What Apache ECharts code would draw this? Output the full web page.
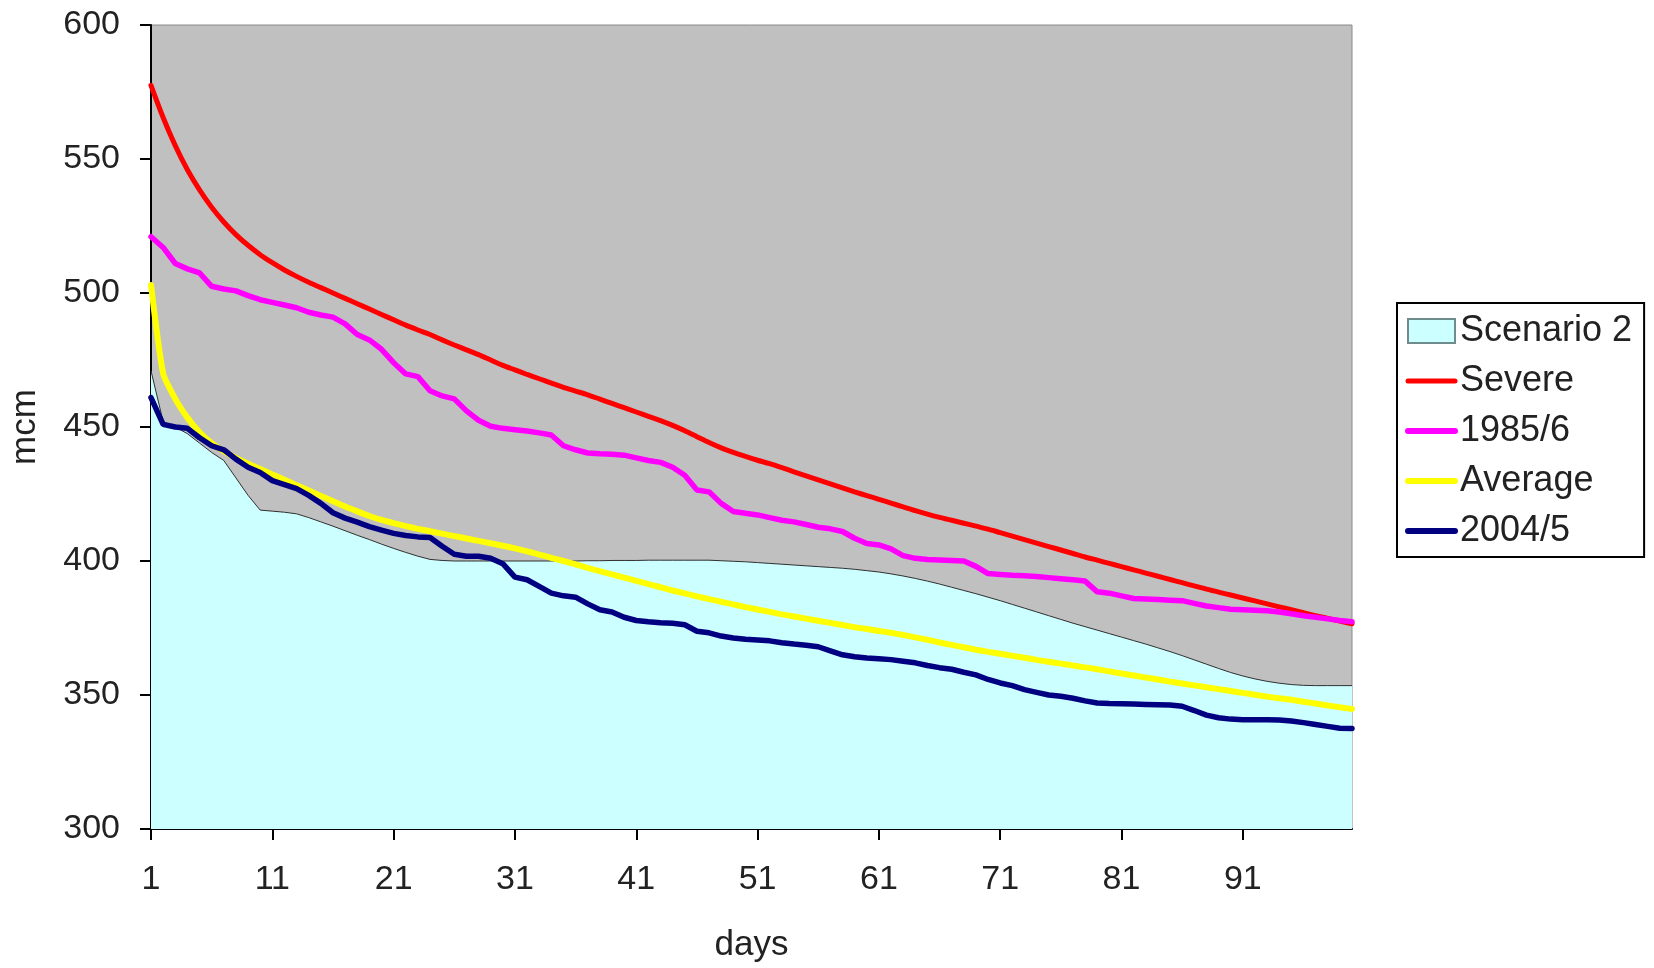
<!DOCTYPE html>
<html>
<head>
<meta charset="utf-8">
<script src="https://cdn.jsdelivr.net/npm/echarts@6/dist/echarts.min.js"></script>
<style>
html,body{margin:0;padding:0;background:#fff;}
#chart{width:1654px;height:968px;}
</style>
</head>
<body>
<div id="chart"></div>
<script>
const days = ['1','2','3','4','5','6','7','8','9','10','11','12','13','14','15','16','17','18','19','20',
'21','22','23','24','25','26','27','28','29','30','31','32','33','34','35','36','37','38','39','40',
'41','42','43','44','45','46','47','48','49','50','51','52','53','54','55','56','57','58','59','60',
'61','62','63','64','65','66','67','68','69','70','71','72','73','74','75','76','77','78','79','80',
'81','82','83','84','85','86','87','88','89','90','91','92','93','94','95','96','97','98','99','100'];

const scenario2 = [471,452,450,447.5,444,440.5,437.5,431,424.5,419,
418.6,418.2,417.6,416.2,414.6,413,411.3,409.6,408,406.3,
404.7,403.2,401.8,400.6,400.2,400,400,400,400,400,
400,400,400,400,400,400,400.1,400.1,400.2,400.2,
400.2,400.3,400.3,400.3,400.3,400.3,400.3,400.1,399.9,399.7,
399.4,399.1,398.8,398.5,398.2,397.9,397.6,397.3,396.9,396.4,
395.9,395.2,394.4,393.5,392.5,391.4,390.2,389,387.8,386.5,
385.2,383.8,382.4,381,379.6,378.2,376.8,375.5,374.2,372.9,
371.6,370.3,369,367.6,366.2,364.7,363.1,361.5,359.9,358.4,
357.1,356,355.1,354.4,353.9,353.6,353.5,353.5,353.5,353.5];

const severe = [577.5,565.5,555,546,538.5,532,526.5,521.8,517.8,514.3,
511.3,508.6,506.2,504,502,500,498,496,494,492,
490,488,486.2,484.5,482.5,480.6,478.8,477,475,473,
471.3,469.6,468,466.4,464.8,463.4,462,460.4,458.8,457.2,
455.6,454,452.4,450.6,448.6,446.4,444.2,442.2,440.5,439,
437.6,436.3,434.8,433.3,431.8,430.3,428.8,427.3,425.8,424.4,
423,421.6,420.2,418.8,417.5,416.3,415.2,414.1,413,411.9,
410.6,409.3,408,406.7,405.4,404.1,402.8,401.5,400.3,399.1,
397.9,396.7,395.5,394.3,393.1,391.9,390.7,389.5,388.4,387.3,
386.2,385.1,384,382.9,381.8,380.7,379.6,378.6,377.6,376.6];

const y1985 = [521,517,511,509,507.5,502.5,501.5,500.8,499,497.5,
496.5,495.5,494.5,492.8,491.8,491,488.5,484.5,482.5,479,
474,469.8,468.8,463.5,461.6,460.5,456,452.5,450.3,449.5,
449,448.5,447.8,447,443,441.5,440.3,440,439.8,439.5,
438.5,437.5,436.8,435,432,426.5,425.8,421.5,418.5,417.8,
417.2,416.2,415.2,414.6,413.6,412.6,412,411,408.5,406.5,
406,404.5,402,401,400.6,400.4,400.2,400,398,395.3,
395,394.7,394.5,394.2,393.8,393.4,393,392.5,388.5,388,
387,386,385.8,385.6,385.4,385.2,384.2,383.2,382.6,382,
381.8,381.6,381.4,381,380.3,379.6,379,378.4,377.8,377.3];

const average = [503,470,460.5,453.5,448,444,441,438.5,436.3,434.3,
432.3,430.3,428.3,426.3,424.3,422.3,420.3,418.5,416.8,415.3,
414.1,413,412,411.1,410.2,409.3,408.4,407.5,406.6,405.7,
404.7,403.6,402.4,401.2,400,398.7,397.4,396.2,395,393.8,
392.6,391.4,390.2,389,387.9,386.8,385.8,384.8,383.8,382.8,
381.9,381,380.1,379.3,378.5,377.7,376.9,376.1,375.3,374.6,
373.9,373.2,372.4,371.5,370.6,369.6,368.7,367.8,366.9,366.1,
365.4,364.6,363.9,363.1,362.4,361.7,361,360.3,359.6,358.8,
358,357.3,356.5,355.8,355,354.3,353.6,352.9,352.2,351.5,
350.8,350.1,349.4,348.8,348.2,347.5,346.8,346.1,345.4,344.8];

const y2004 = [461,451,450,449.5,446,443,441.5,438,435,433,
430,428.5,427,424.5,421.5,418,416,414.5,412.8,411.5,
410.3,409.5,409,408.8,405.5,402.5,401.8,401.8,401,399,
394,393,390.5,388,387,386.5,384,381.8,381,379,
377.8,377.3,377,376.8,376.2,373.8,373.2,372,371.3,370.8,
370.5,370.2,369.5,369,368.6,368,366.5,365,364.3,363.8,
363.5,363.2,362.6,362,361,360.2,359.6,358.5,357.5,355.8,
354.5,353.5,352,351,350,349.5,348.8,347.8,347,346.8,
346.7,346.6,346.5,346.4,346.3,345.8,344.2,342.5,341.5,341,
340.8,340.8,340.8,340.7,340.3,339.7,339,338.3,337.6,337.5];

const yTicks = [300, 600, 50];

const FONT = "'Liberation Sans', Arial, sans-serif";
const hidden = { opacity: 0 };
const chart = echarts.init(document.getElementById('chart'));
chart.setOption({
  animation: false,
  backgroundColor: '#ffffff',
  textStyle: { fontFamily: FONT, color: '#222' },
  grid: {
    left: 150, top: 25, right: 302, bottom: 135,
    show: true, backgroundColor: '#C0C0C0', borderColor: '#8a8a8a', borderWidth: 1
  },
  legend: {
    orient: 'vertical',
    left: 1397, top: 303,
    backgroundColor: '#ffffff',
    borderColor: '#000', borderWidth: 2,
    padding: [10, 12, 8, 8],
    itemWidth: 47, itemHeight: 24, itemGap: 14,
    textStyle: { fontFamily: FONT, fontSize: 36, color: '#222', lineHeight: 36 },
    data: [
      { name: 'Scenario 2', icon: 'rect', itemStyle: { color: '#CCFFFF', borderColor: '#6E8C8C', borderWidth: 2 } },
      { name: 'Severe', itemStyle: hidden, lineStyle: { width: 5, cap: 'round' } },
      { name: '1985/6', itemStyle: hidden, lineStyle: { width: 6, cap: 'round' } },
      { name: 'Average', itemStyle: hidden, lineStyle: { width: 6, cap: 'round' } },
      { name: '2004/5', itemStyle: hidden, lineStyle: { width: 6, cap: 'round' } }
    ]
  },
  xAxis: {
    type: 'category',
    data: days,
    boundaryGap: false,
    name: 'days',
    nameLocation: 'middle',
    nameGap: 99,
    nameTextStyle: { fontFamily: FONT, fontSize: 35, color: '#222' },
    axisLine: { lineStyle: { color: '#000', width: 2 } },
    axisTick: { show: true, interval: 9, length: 11, lineStyle: { color: '#000', width: 2 } },
    axisLabel: { interval: 9, margin: 34, fontSize: 34, color: '#222', fontFamily: FONT },
    splitLine: { show: false }
  },
  yAxis: {
    type: 'value',
    min: yTicks[0], max: yTicks[1], interval: yTicks[2],
    name: 'mcm',
    nameLocation: 'middle',
    nameGap: 108,
    nameTextStyle: { fontFamily: FONT, fontSize: 35, color: '#222' },
    axisLine: { show: true, lineStyle: { color: '#000', width: 2 } },
    axisTick: { show: true, length: 11, lineStyle: { color: '#000', width: 2 } },
    axisLabel: { margin: 31, fontSize: 34, color: '#222', fontFamily: FONT },
    splitLine: { show: false }
  },
  series: [
    {
      name: 'Scenario 2', type: 'line', data: scenario2, symbol: 'none',
      lineStyle: { color: '#303030', width: 1 },
      itemStyle: { color: '#CCFFFF' },
      areaStyle: { color: '#CCFFFF', opacity: 1, origin: 'start' },
      z: 1
    },
    { name: 'Severe', type: 'line', data: severe, symbol: 'none', smooth: 0.3,
      lineStyle: { color: '#FF0000', width: 5, cap: 'round' }, itemStyle: { color: '#FF0000' }, z: 2 },
    { name: '1985/6', type: 'line', data: y1985, symbol: 'none',
      lineStyle: { color: '#FF00FF', width: 5.5, cap: 'round' }, itemStyle: { color: '#FF00FF' }, z: 3 },
    { name: 'Average', type: 'line', data: average, symbol: 'none', smooth: 0.2,
      lineStyle: { color: '#FFFF00', width: 6, cap: 'round' }, itemStyle: { color: '#FFFF00' }, z: 4 },
    { name: '2004/5', type: 'line', data: y2004, symbol: 'none',
      lineStyle: { color: '#000080', width: 5.5, cap: 'round' }, itemStyle: { color: '#000080' }, z: 5 }
  ]
});
</script>
</body>
</html>
